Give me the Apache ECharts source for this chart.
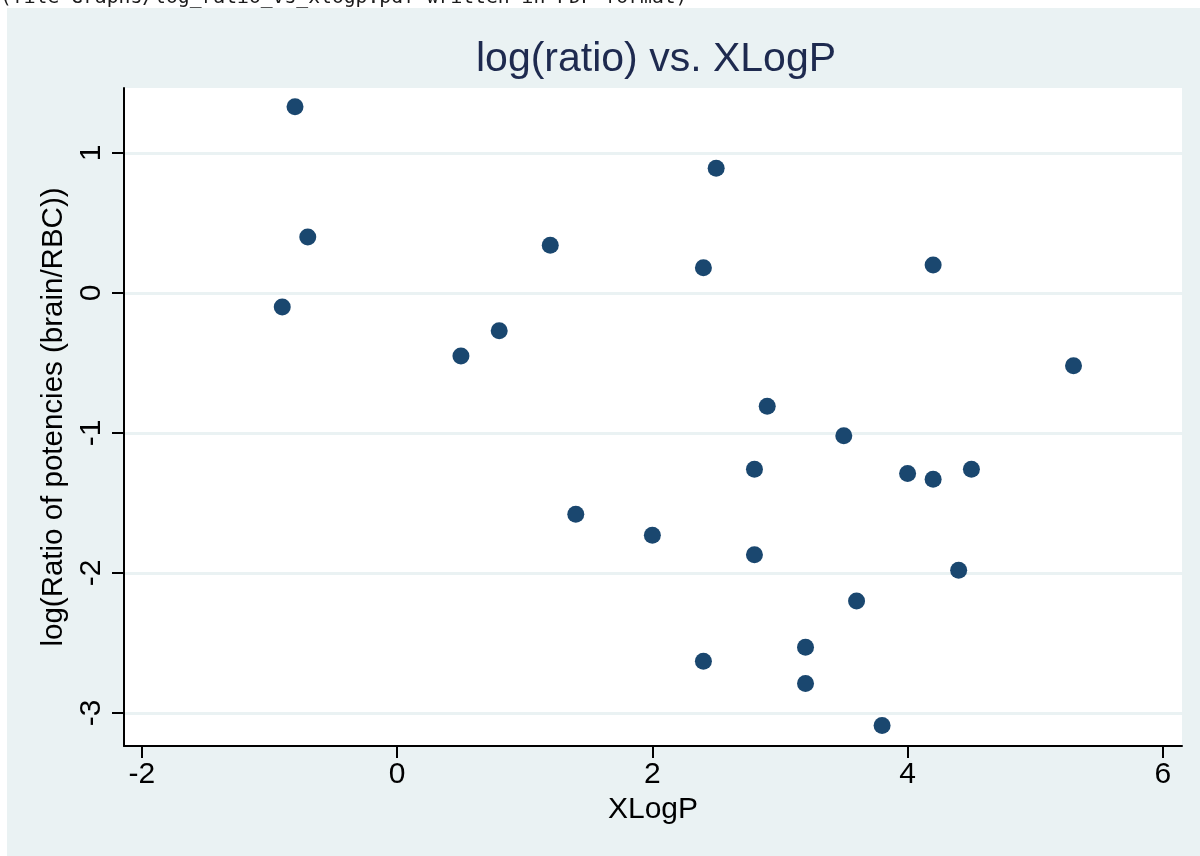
<!DOCTYPE html>
<html>
<head>
<meta charset="utf-8">
<title>log(ratio) vs. XLogP</title>
<script src="https://cdn.jsdelivr.net/npm/echarts@6/dist/echarts.min.js"></script>
<style>
  html, body { margin: 0; padding: 0; background: #ffffff; }
  #chart { width: 1200px; height: 856px; }
</style>
</head>
<body>
<div id="chart"></div>
<script>
// XLogP of each compound and log of its brain/RBC potency ratio
const xlogp = [-0.8, -0.7, -0.9, 0.5, 0.8, 1.2, 1.4, 2.0, 2.4, 2.5, 2.4, 2.9, 2.8, 2.8,
               3.2, 3.2, 3.5, 3.6, 3.8, 4.0, 4.2, 4.2, 4.5, 4.4, 5.3];
const logRatio = [1.33, 0.40, -0.10, -0.45, -0.27, 0.34, -1.58, -1.73, 0.18, 0.89, -2.63, -0.81, -1.26, -1.87,
                  -2.53, -2.79, -1.02, -2.20, -3.09, -1.29, 0.20, -1.33, -1.26, -1.98, -0.52];

const xTicks = [-2, 0, 2, 4, 6];
const yTicks = [-3, -2, -1, 0, 1];

const titleText = 'log(ratio) vs. XLogP';
const xName = 'XLogP';
const yName = 'log(Ratio of potencies (brain/RBC))';
const logLine = '(file Graphs/log_ratio_vs_xlogp.pdf written in PDF format)';

const points = xlogp.map((x, i) => [x, logRatio[i]]);

const chart = echarts.init(document.getElementById('chart'), null, { renderer: 'canvas' });

const font = 'Liberation Sans, Arial, sans-serif';

chart.setOption({
  backgroundColor: '#ffffff',
  animation: false,
  graphic: [
    {
      type: 'rect', z: -10, silent: true,
      shape: { x: 7, y: 8, width: 1193, height: 848 },
      style: { fill: '#eaf2f3' }
    },
    {
      type: 'rect', z: -9, silent: true,
      shape: { x: 124, y: 88, width: 1058, height: 658 },
      style: { fill: '#ffffff' }
    },
    {
      // console echo line, partly scrolled off the top edge
      type: 'text', left: 0, top: -12, silent: true, z: -8,
      style: {
        text: logLine,
        font: '19.7px "DejaVu Sans Mono", "Liberation Mono", monospace',
        fill: '#1a1a1a'
      }
    }
  ],
  title: {
    text: titleText,
    left: 651,
    textAlign: 'center',
    top: 34,
    textStyle: { fontFamily: font, fontSize: 41, fontWeight: 'normal', color: '#1e2a4f' }
  },
  grid: { left: 124, top: 88, right: 18, bottom: 110, containLabel: false },
  xAxis: {
    type: 'value',
    min: -2.14, max: 6.15,
    name: xName,
    nameLocation: 'middle',
    nameGap: 44,
    nameTextStyle: { fontFamily: font, fontSize: 30, color: '#000' },
    axisLine: { show: true, onZero: false, lineStyle: { color: '#000', width: 2 } },
    axisTick: { show: true, length: 12, lineStyle: { color: '#000', width: 2 }, customValues: xTicks },
    axisLabel: { fontFamily: font, fontSize: 30, color: '#000', margin: 14, customValues: xTicks },
    splitLine: { show: false }
  },
  yAxis: {
    type: 'value',
    min: -3.236, max: 1.464,
    name: yName,
    nameLocation: 'middle',
    nameRotate: 90,
    nameGap: 54,
    nameTextStyle: { fontFamily: font, fontSize: 29.5, color: '#000' },
    axisLine: { show: true, onZero: false, lineStyle: { color: '#000', width: 2 } },
    axisTick: { show: true, length: 12, lineStyle: { color: '#000', width: 2 }, customValues: yTicks },
    axisLabel: { fontFamily: font, fontSize: 30, color: '#000', margin: 17, rotate: 90, customValues: yTicks },
    splitLine: { show: true, lineStyle: { color: '#eaf2f3', width: 3 } }
  },
  series: [{
    type: 'scatter',
    data: points,
    symbol: 'circle',
    symbolSize: 17,
    itemStyle: { color: '#1a476f', opacity: 1 }
  }]
});
</script>
</body>
</html>
